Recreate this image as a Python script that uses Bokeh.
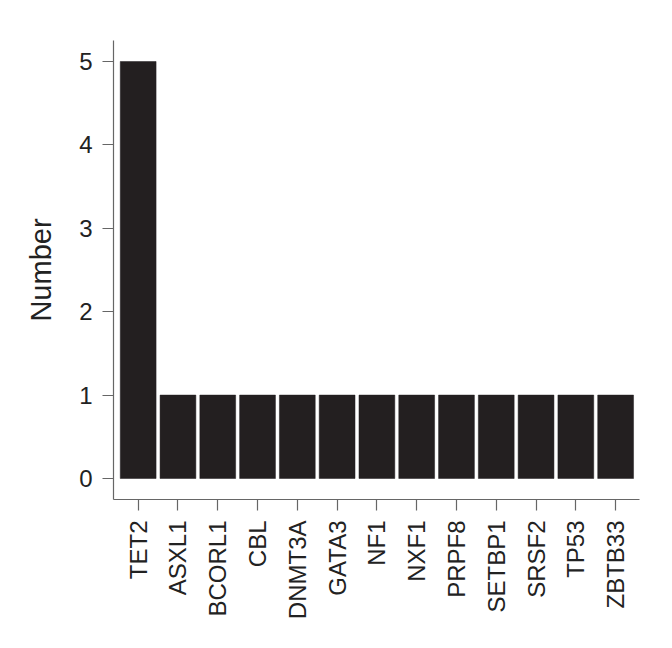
import math
from bokeh.plotting import figure
from bokeh.models import Range1d, FixedTicker
from bokeh.embed import file_html
from bokeh.resources import INLINE

genes = ["TET2", "ASXL1", "BCORL1", "CBL", "DNMT3A", "GATA3", "NF1",
         "NXF1", "PRPF8", "SETBP1", "SRSF2", "TP53", "ZBTB33"]
counts = [5, 1, 1, 1, 1, 1, 1, 1, 1, 1, 1, 1, 1]
y_ticks = [0, 1, 2, 3, 4, 5]

xs = list(range(len(genes)))

p = figure(width=658, height=640, output_backend="svg", toolbar_location=None,
           x_range=Range1d(-0.62, len(genes) - 1 + 0.6),
           y_range=Range1d(-0.252, 5.252),
           min_border_left=113, min_border_right=19,
           min_border_top=40, min_border_bottom=141)
p.frame_width = 526
p.frame_height = 459

p.vbar(x=xs, top=counts, bottom=0, width=0.9, fill_color="#231f20",
       line_color="#231f20", line_width=0.5)

p.outline_line_color = None
p.grid.grid_line_color = None
p.background_fill_color = "white"
p.border_fill_color = "white"

font = "Liberation Sans"
axis_col = "#666666"
text_col = "#222222"

xa = p.xaxis[0]
xa.ticker = FixedTicker(ticks=xs)
xa.major_label_overrides = {i: g for i, g in enumerate(genes)}
xa.major_label_orientation = math.pi / 2
xa.major_label_text_font = font
xa.major_label_text_font_size = "24px"
xa.major_label_text_color = text_col
xa.major_label_standoff = 10

ya = p.yaxis[0]
ya.ticker = FixedTicker(ticks=y_ticks)
ya.major_label_text_font = font
ya.major_label_text_font_size = "24px"
ya.major_label_text_color = text_col
ya.major_label_standoff = 10
ya.axis_label = "Number"
ya.axis_label_text_font = font
ya.axis_label_text_font_size = "29px"
ya.axis_label_text_font_style = "normal"
ya.axis_label_text_color = text_col
ya.axis_label_standoff = 19

for ax in (xa, ya):
    ax.axis_line_color = axis_col
    ax.axis_line_width = 1.2
    ax.major_tick_line_color = axis_col
    ax.major_tick_line_width = 1.2
    ax.major_tick_out = 11
    ax.major_tick_in = 0
    ax.minor_tick_line_color = None

open("out.html", "w").write(file_html(p, INLINE))
